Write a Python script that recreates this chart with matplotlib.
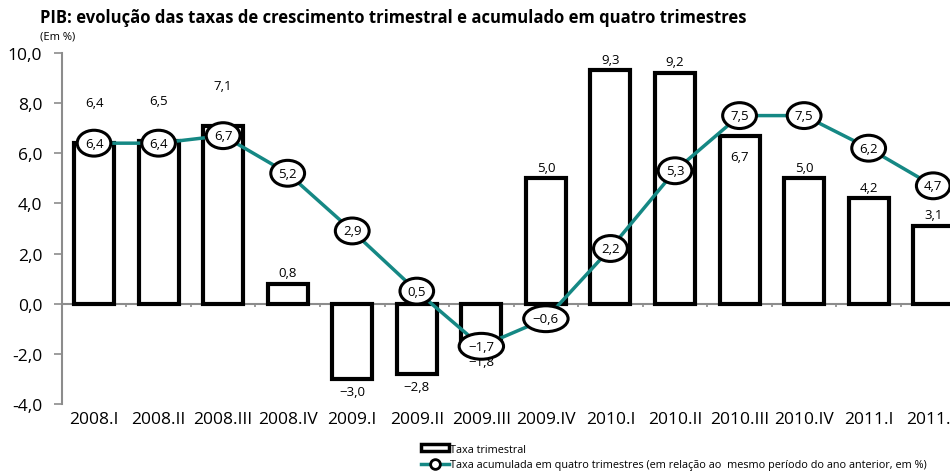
import matplotlib.pyplot as plt
import numpy as np
from matplotlib.lines import Line2D
from matplotlib.patches import Patch

plt.rcParams['font.family'] = ['Open Sans', 'DejaVu Sans']

TEAL = '#158884'
GREY = '#8c8c8c'

quarters = ["2008.I", "2008.II", "2008.III", "2008.IV", "2009.I", "2009.II", "2009.III",
            "2009.IV", "2010.I", "2010.II", "2010.III", "2010.IV", "2011.I", "2011.II"]
taxa_trimestral = [6.4, 6.5, 7.1, 0.8, -3.0, -2.8, -1.8, 5.0, 9.3, 9.2, 6.7, 5.0, 4.2, 3.1]
taxa_acumulada = [6.4, 6.4, 6.7, 5.2, 2.9, 0.5, -1.7, -0.6, 2.2, 5.3, 7.5, 7.5, 6.2, 4.7]


def fmt(v):
    s = "%.1f" % abs(v)
    s = s.replace(".", ",")
    return ("\u2212" + s) if v < 0 else s


fig = plt.figure(figsize=(9.5, 4.77), dpi=100)
ax = fig.add_axes([0.065, 0.151, 0.935, 0.736])
x = np.arange(len(quarters))

ax.bar(x, taxa_trimestral, width=0.62, color='white', edgecolor='black', linewidth=3, zorder=2)
ax.axhline(0, color=GREY, lw=1.5, zorder=1)
ax.vlines(x[:-1] + 0.5, -0.14, 0, color=GREY, lw=1.2, zorder=1)
ax.plot(x, taxa_acumulada, color=TEAL, lw=2.5, zorder=3)

# bar labels
for i, v in enumerate(taxa_trimestral):
    near = abs(taxa_acumulada[i] - v) < 0.6
    if v >= 0:
        if taxa_acumulada[i] > v + 0.5 and taxa_acumulada[i] - v < 1.5:
            ax.annotate(fmt(v), (i, v), xytext=(0, -15), textcoords='offset points',
                        ha='center', va='center', fontsize=9.5, zorder=4)
        else:
            off = 29 if near else 8
            ax.annotate(fmt(v), (i, v), xytext=(0, off), textcoords='offset points',
                        ha='center', va='center', fontsize=9.5, zorder=4)
    else:
        ax.annotate(fmt(v), (i, v), xytext=(0, -9), textcoords='offset points',
                    ha='center', va='center', fontsize=9.5, zorder=4)

# line markers as ellipses with labels
for i, v in enumerate(taxa_acumulada):
    ax.text(i, v, fmt(v), ha='center', va='center', fontsize=9.5, zorder=5,
            bbox=dict(boxstyle='ellipse,pad=0.2', fc='white', ec='black', lw=2.2))

ax.set_xlim(-0.5, 13.26)
ax.set_ylim(-4, 10)
ax.set_yticks(np.arange(-4, 10.1, 2))
ax.set_yticklabels([("%.1f" % t).replace(".", ",") for t in np.arange(-4, 10.1, 2)], fontsize=12.5)
ax.set_xticks(x)
ax.set_xticklabels(quarters, fontsize=12.5)
ax.tick_params(axis='x', length=0, pad=5)
ax.tick_params(axis='y', length=6, width=1.2, color=GREY, pad=8)
for s in ['top', 'right', 'bottom']:
    ax.spines[s].set_visible(False)
ax.spines['left'].set_color(GREY)
ax.spines['left'].set_linewidth(1.5)

fig.text(0.042, 0.963, "PIB: evolução das taxas de crescimento trimestral e acumulado em quatro trimestres",
         fontsize=12, fontweight='bold', va='center')
fig.text(0.042, 0.922, "(Em %)", fontsize=8, va='center')

handles = [Patch(facecolor='white', edgecolor='black', linewidth=2.5),
           Line2D([0], [0], color=TEAL, lw=2.5, marker='o', markersize=7,
                  markerfacecolor='white', markeredgecolor='black', markeredgewidth=2)]
labels = ["Taxa trimestral",
          "Taxa acumulada em quatro trimestres (em relação ao  mesmo período do ano anterior, em %)"]
fig.legend(handles, labels, loc='upper left', bbox_to_anchor=(0.443, 0.068), frameon=False,
           fontsize=7.8, handlelength=2.6, handleheight=0.55, handletextpad=0.1, labelspacing=0.45,
           borderpad=0, borderaxespad=0)

fig.savefig("out.png", dpi=100)
